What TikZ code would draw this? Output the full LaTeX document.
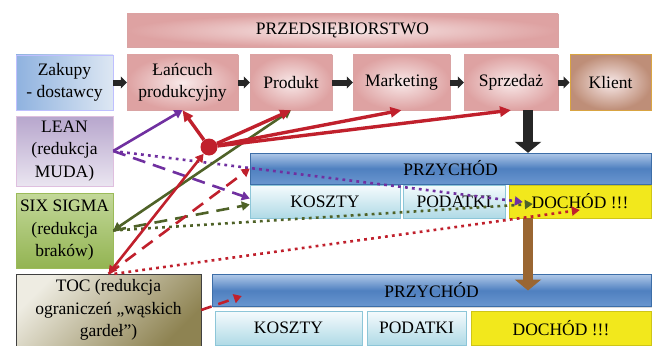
\documentclass[tikz,border=0pt]{standalone}
\usepackage{fontspec}
\setmainfont{Liberation Serif}
\usetikzlibrary{arrows.meta,shadows}

\definecolor{pinklight}{HTML}{F8E9E9}
\definecolor{pinkdark}{HTML}{DEA2A2}
\definecolor{pinkline}{HTML}{D9A3A3}
\definecolor{bluetop}{HTML}{AFC8E8}
\definecolor{bluemid}{HTML}{4F80C0}
\definecolor{bluebot}{HTML}{6A96CF}
\definecolor{blueline}{HTML}{3D6EA8}
\definecolor{cyantop}{HTML}{F5FBFD}
\definecolor{cyanbot}{HTML}{B0DAE6}
\definecolor{cyanline}{HTML}{8DC6D8}
\definecolor{gold}{HTML}{F2E81C}
\definecolor{buydark}{HTML}{8FB2DF}
\definecolor{buylight}{HTML}{DDE7F3}
\definecolor{leandark}{HTML}{B7A6CD}
\definecolor{leanlight}{HTML}{EAE5F0}
\definecolor{sigmalight}{HTML}{C3D89A}
\definecolor{sigmadark}{HTML}{93B452}
\definecolor{sigmaline}{HTML}{9BBB59}
\definecolor{toclight}{HTML}{EEECE2}
\definecolor{tocdark}{HTML}{8E8352}
\definecolor{clientline}{HTML}{D9A441}
\definecolor{clientdark}{HTML}{BE8E78}
\definecolor{redarrow}{HTML}{C0202C}
\definecolor{purplearrow}{HTML}{7030A0}
\definecolor{greenarrow}{HTML}{4F6228}
\definecolor{brownarrow}{HTML}{9A6632}

\begin{document}
\begin{tikzpicture}[x=1pt,y=-1pt,
  box/.style={rectangle,draw,inner sep=2pt,align=center,font=\fontsize{17.5}{22.5}\selectfont,
    drop shadow={shadow xshift=1.2pt,shadow yshift=-1.2pt,opacity=0.3}},
  firm/.style={box,draw=pinkline,inner color=pinklight,outer color=pinkdark},
  income/.style={box,draw=blueline,top color=bluetop,bottom color=bluebot,middle color=bluemid},
  cost/.style={box,draw=cyanline,top color=cyantop,bottom color=cyanbot},
  profit/.style={box,draw=gold!85!black,fill=gold},
  flow/.style={-{Triangle[length=6pt,width=12pt]},line width=6pt,black!85},
  bigflow/.style={-{Triangle[length=11pt,width=26pt]},line width=10pt},
  link/.style={line width=2.6pt,-{Triangle[length=8pt,width=9pt]}},
  dotline/.style={link,dash pattern=on 2.8pt off 4.2pt},
  dashline/.style={link,dash pattern=on 13pt off 8pt},
  hubline/.style={link,redarrow,line width=3.4pt,-{Triangle[length=11pt,width=10pt]}}]

\useasboundingbox (0,0) rectangle (655,345);

% enterprise chain
\node[firm,minimum width=431pt,minimum height=33pt] (firma) at (342.5,30.5) {PRZEDSIĘBIORSTWO};
\node[box,draw=blue!25,left color=buydark,right color=buylight,minimum width=97pt,minimum height=55pt] (zakupy) at (64.5,82.5) {Zakupy\\- dostawcy};
\node[firm,minimum width=111pt,minimum height=55pt] (lancuch) at (182.5,82.5) {Łańcuch\\produkcyjny};
\node[firm,minimum width=82pt,minimum height=55pt] (produkt) at (291,82.5) {Produkt};
\node[firm,minimum width=97pt,minimum height=55pt] (marketing) at (401.5,82.5) {Marketing};
\node[firm,minimum width=94pt,minimum height=55pt] (sprzedaz) at (511,82.5) {Sprzedaż};
\node[box,draw=clientline,line width=1pt,inner color=pinklight,outer color=clientdark,minimum width=81pt,minimum height=55pt] (klient) at (610.5,82.5) {Klient};

% methods
\node[box,draw=violet!25,top color=leandark,bottom color=leanlight,minimum width=97pt,minimum height=70pt] (lean) at (64.5,151) {LEAN\\(redukcja\\MUDA)};
\node[box,draw=sigmaline,top color=sigmalight,bottom color=sigmadark,minimum width=97pt,minimum height=75pt] (sixsigma) at (64.5,230.5) {SIX SIGMA\\(redukcja\\braków)};
\node[box,draw=black!75,top color=toclight,bottom color=tocdark,shading angle=45,minimum width=185pt,minimum height=72pt] (toc) at (108.5,310) {TOC (redukcja\\ograniczeń „wąskich\\gardeł”)};

% revenue blocks
\node[income,minimum width=401pt,minimum height=31pt] (przychodA) at (450.5,168.5) {PRZYCHÓD};
\node[cost,minimum width=150pt,minimum height=33pt] (kosztyA) at (325,201.5) {KOSZTY};
\node[cost,minimum width=102pt,minimum height=33pt] (podatkiA) at (454,201.5) {PODATKI};
\node[profit,minimum width=142pt,minimum height=33pt] (dochodA) at (580,201.5) {DOCHÓD !!!};

\node[income,minimum width=439pt,minimum height=32pt] (przychodB) at (431.5,290.5) {PRZYCHÓD};
\node[cost,minimum width=147pt,minimum height=34pt] (kosztyB) at (288.5,328) {KOSZTY};
\node[cost,minimum width=99pt,minimum height=34pt] (podatkiB) at (416.5,328) {PODATKI};
\node[profit,minimum width=180pt,minimum height=34pt] (dochodB) at (561,328) {DOCHÓD !!!};

\foreach \a/\b in {zakupy/lancuch,lancuch/produkt,produkt/marketing,marketing/sprzedaz,sprzedaz/klient}{\draw[flow] (\a) -- (\b);}

\draw[bigflow,black!85] ([xshift=17pt]sprzedaz.south) -- ([xshift=77.5pt]przychodA.north);
\draw[bigflow,brownarrow] ([xshift=-52pt]dochodA.south) -- ([xshift=96.5pt]przychodB.center);

% LEAN
\draw[link,purplearrow] (lean.east) -- (lancuch.south);
\draw[dashline,purplearrow] (lean.east) -- ([yshift=3pt]kosztyA.west);
\draw[dotline,purplearrow] (lean.east) -- ([xshift=14pt,yshift=-0.5pt]dochodA.west);

% SIX SIGMA
\draw[link,greenarrow,{Triangle[length=8pt,width=9pt]}-{Triangle[length=8pt,width=9pt]}] (sixsigma.east) -- (produkt.south);
\draw[dashline,greenarrow] (sixsigma.east) -- ([yshift=-3pt]kosztyA.west);
\draw[dotline,greenarrow] (sixsigma.east) -- ([xshift=24pt,yshift=-2.5pt]dochodA.west);

% TOC
\node[circle,fill=redarrow,minimum size=17pt,inner sep=0pt] (hub) at (209,147) {};
\foreach \t in {lancuch,produkt,marketing,sprzedaz}{\draw[hubline] (hub) -- (\t.south);}
\draw[link,redarrow,{Triangle[length=8pt,width=9pt]}-{Triangle[length=8pt,width=9pt]}] (toc.north) -- (hub);
\draw[dashline,redarrow] (toc.north) -- (przychodA.west);
\draw[dotline,redarrow] ([xshift=6pt]toc.north) -- ([xshift=71pt,yshift=-8.5pt]dochodA.west);
\draw[link,redarrow,dash pattern=on 11pt off 7pt] (toc.east) -- ([xshift=30pt,yshift=-5.5pt]przychodB.west);

\end{tikzpicture}
\end{document}
